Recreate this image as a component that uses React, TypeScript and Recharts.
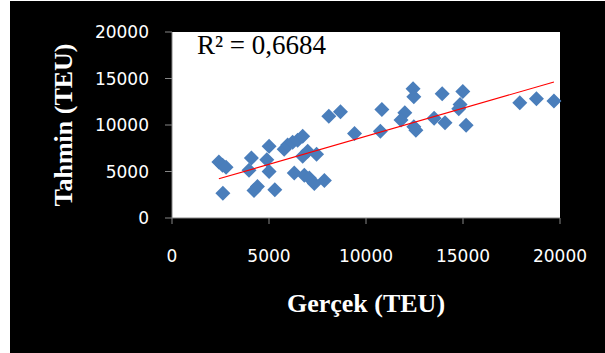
import { ScatterChart, Scatter, XAxis, YAxis, CartesianGrid } from 'recharts';

// Gerçek (actual) vs Tahmin (predicted), TEU
const actual = [
  2415, 2606, 2788, 2622, 4093, 3969, 4404, 4228, 5005, 4886, 5005, 5300,
  5782, 5959, 6218, 6477, 6736, 6301, 6736, 6995, 7451, 6819, 7078, 7337,
  7855, 8083, 8684, 9409, 10741, 10819, 12000, 11803, 12425, 12466, 12466,
  12570, 13513, 14073, 13927, 14990, 14850, 14782, 15161, 17927, 18787, 19689,
];
const predicted = [
  6022, 5676, 5459, 2649, 6454, 5135, 3384, 2951, 7708, 6270, 5005, 3027,
  7405, 7838, 8141, 8357, 8789, 4832, 6627, 7168, 6865, 4595, 4292, 3697,
  4032, 10951, 11427, 9081, 9330, 11676, 11319, 10541, 13892, 13027, 9805,
  9438, 10735, 10238, 13373, 13589, 12216, 11751, 9978, 12400, 12832, 12573,
];
const trendX = [2415, 19689];
const trendY = [4216, 14627];
const ticks = [0, 5000, 10000, 15000, 20000];

const points = actual.map((x, i) => ({ x, y: predicted[i] }));
const trend = trendX.map((x, i) => ({ x, y: trendY[i] }));

const axisColor = '#868686';
const tickStyle = { fill: '#ffffff', fontSize: 17, fontFamily: 'DejaVu Sans, sans-serif' };

const Diamond = (props: any) => {
  const { cx, cy } = props;
  const r = 7.5;
  return (
    <path
      d={`M${cx},${cy - r} L${cx + r},${cy} L${cx},${cy + r} L${cx - r},${cy} Z`}
      fill="#4a7ebb"
    />
  );
};

const YLabel = (props: any) => {
  const vb = props.viewBox;
  const cy = vb.y + vb.height / 2;
  return (
    <text
      x={72}
      y={cy}
      transform={`rotate(-90, 72, ${cy})`}
      textAnchor="middle"
      fill="#ffffff"
      fontSize={26}
      fontWeight="bold"
      fontFamily="Liberation Serif, serif"
    >
      Tahmin (TEU)
    </text>
  );
};

const XLabel = (props: any) => {
  const vb = props.viewBox;
  const cx = vb.x + vb.width / 2;
  return (
    <text
      x={cx}
      y={312}
      textAnchor="middle"
      fill="#ffffff"
      fontSize={26}
      fontWeight="bold"
      fontFamily="Liberation Serif, serif"
    >
      Gerçek (TEU)
    </text>
  );
};

export default function App() {
  return (
    <div style={{ position: 'absolute', left: 0, top: 0, width: 605, height: 353, background: '#ffffff' }}>
      <div style={{ position: 'absolute', left: 10, top: 1, width: 595, height: 352, background: '#000000' }} />
      <div style={{ position: 'absolute', left: 0, top: 0 }}>
        <ScatterChart width={605} height={353} margin={{ top: 32, right: 45, bottom: 0, left: 0 }}>
          <CartesianGrid fill="#ffffff" horizontal={false} vertical={false} />
          <XAxis
            type="number"
            dataKey="x"
            domain={[0, 20000]}
            ticks={ticks}
            height={135}
            stroke={axisColor}
            tickSize={6}
            tickMargin={26}
            tick={tickStyle}
            label={<XLabel />}
          />
          <YAxis
            type="number"
            dataKey="y"
            domain={[0, 20000]}
            ticks={ticks}
            width={172}
            stroke={axisColor}
            tickSize={7}
            tickMargin={16}
            tick={tickStyle}
            label={<YLabel />}
          />
          <Scatter data={points} shape={<Diamond />} isAnimationActive={false} />
          <Scatter
            data={trend}
            line={{ stroke: '#ff0000', strokeWidth: 1.2 }}
            shape={() => null}
            isAnimationActive={false}
          />
        </ScatterChart>
      </div>
      <div
        style={{
          position: 'absolute',
          left: 197,
          top: 30,
          fontFamily: 'Liberation Serif, serif',
          fontSize: 27,
          color: '#000000',
          lineHeight: '30px',
        }}
      >
        R² = 0,6684
      </div>
    </div>
  );
}
